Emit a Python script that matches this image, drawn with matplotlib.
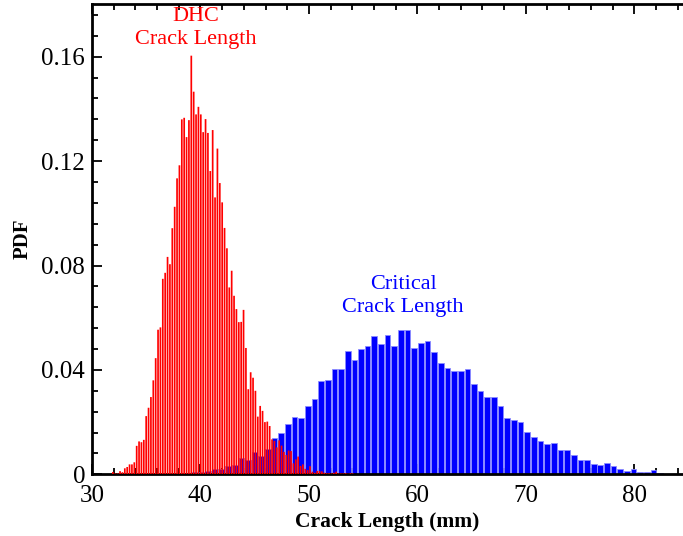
import matplotlib
matplotlib.use("Agg")
import matplotlib.pyplot as plt
import numpy as np
from matplotlib.ticker import MultipleLocator

# DHC crack length histogram (red): first bin centre, bin spacing, PDF values
dhc_start = 31.93
dhc_step = 0.219
dhc_pdf = [
    0.0009, 0.0003, 0.0003, 0.0012, 0.0008, 0.0023, 0.0028, 0.0038, 0.0038, 0.0046,
    0.0109, 0.0126, 0.0123, 0.0132, 0.0223, 0.0255, 0.0296, 0.0360, 0.0445, 0.0554,
    0.0563, 0.0749, 0.0772, 0.0833, 0.0805,
    0.0943, 0.1025, 0.1134, 0.1184, 0.1360, 0.1366, 0.1292, 0.1357, 0.1604, 0.1466,
    0.1379, 0.1408, 0.1379, 0.1311, 0.1361, 0.1308, 0.1162, 0.1319, 0.1061, 0.1248,
    0.1116, 0.1042, 0.0944,
    0.0866, 0.0716, 0.0780, 0.0684, 0.0633, 0.0583, 0.0584, 0.0630, 0.0484, 0.0326,
    0.0391, 0.0370, 0.0320, 0.0221, 0.0262, 0.0243, 0.0200, 0.0202, 0.0185, 0.0134,
    0.0128, 0.0103, 0.0130, 0.0110, 0.0086, 0.0074, 0.0091,
    0.0089, 0.0042, 0.0057, 0.0068, 0.0032, 0.0038, 0.0021, 0.0016, 0.0031, 0.0010,
    0.0006, 0.0013, 0.0013, 0.0011, 0.0006, 0.0004, 0.0004, 0.0003, 0.0006, 0.0010,
    0.0003, 0.0003, 0.0003, 0.0004, 0.0002, 0.0004, 0.0003,
]

# Critical crack length histogram (blue)
crit_start = 38.87
crit_step = 0.613
crit_pdf = [
    0.0004, 0.0010, 0.0010, 0.0012, 0.0019, 0.0020, 0.0033, 0.0036, 0.0064, 0.0055,
    0.0087, 0.0070, 0.0097,
    0.0140, 0.0157, 0.0192, 0.0221, 0.0217, 0.0262, 0.0287, 0.0357, 0.0361, 0.0402,
    0.0402, 0.0474, 0.0437, 0.0479, 0.0493, 0.0530, 0.0499, 0.0535, 0.0493, 0.0552,
    0.0554, 0.0483, 0.0502, 0.0512, 0.0467,
    0.0428, 0.0408, 0.0397, 0.0397, 0.0405, 0.0345, 0.0320, 0.0297, 0.0297, 0.0262,
    0.0216, 0.0207, 0.0200, 0.0161, 0.0144, 0.0128, 0.0116, 0.0119, 0.0094, 0.0093,
    0.0074, 0.0054, 0.0056, 0.0039, 0.0037, 0.0042, 0.0033, 0.0019, 0.0013, 0.0021,
    0.0009, 0.0009, 0.0015, 0.0006, 0.0002, 0.0001,
]

x_ticks = [30, 40, 50, 60, 70, 80]
y_ticks = [0, 0.04, 0.08, 0.12, 0.16]
y_tick_labels = ["0", "0.04", "0.08", "0.12", "0.16"]

plt.rcParams['font.family'] = ['Liberation Serif', 'DejaVu Serif']

fig = plt.figure(figsize=(6.83, 5.36), dpi=100)
ax = fig.add_axes([92 / 683, 1 - 474.3 / 536, 1 - 92 / 683, (474.3 - 4) / 536])

crit_x = crit_start + crit_step * np.arange(len(crit_pdf))
dhc_x = dhc_start + dhc_step * np.arange(len(dhc_pdf))

ax.bar(crit_x, crit_pdf, width=crit_step * 0.85, color='#0000ff',
       edgecolor='#8c8cff', linewidth=0.6, zorder=2)
red_bars = ax.bar(dhc_x, dhc_pdf, width=dhc_step * 0.72, color='#ff0000',
                  edgecolor='none', linewidth=0, zorder=3)
for p in red_bars.patches:
    p.set_snap(False)

ax.set_xlim(30, 84.5)
ax.set_ylim(0, 0.1802)
ax.set_xticks(x_ticks)
ax.set_yticks(y_ticks)
ax.set_yticklabels(y_tick_labels)
ax.xaxis.set_minor_locator(MultipleLocator(2))
ax.yaxis.set_minor_locator(MultipleLocator(0.008))

ax.tick_params(which='both', direction='in', top=True, right=False,
               labelsize=18, width=1.3)
ax.tick_params(which='major', length=7)
ax.tick_params(which='minor', length=4)
ax.tick_params(axis='x', pad=8)
ax.tick_params(axis='y', pad=5)

for s in ['left', 'bottom', 'top']:
    ax.spines[s].set_linewidth(2)
ax.spines['right'].set_visible(False)

ax.set_xlabel('Crack Length (mm)', fontsize=15.5, fontweight='bold', labelpad=3)
ax.set_ylabel('PDF', fontsize=15, fontweight='bold', labelpad=6)

ax.text(39.6, 0.1792, 'DHC\nCrack Length', color='#ff0000', fontsize=16,
        ha='center', va='top', linespacing=1.3)
ax.text(58.7, 0.0765, 'Critical\nCrack Length', color='#0000ff', fontsize=16,
        ha='center', va='top', linespacing=1.3)

fig.savefig('out.png', dpi=100)
